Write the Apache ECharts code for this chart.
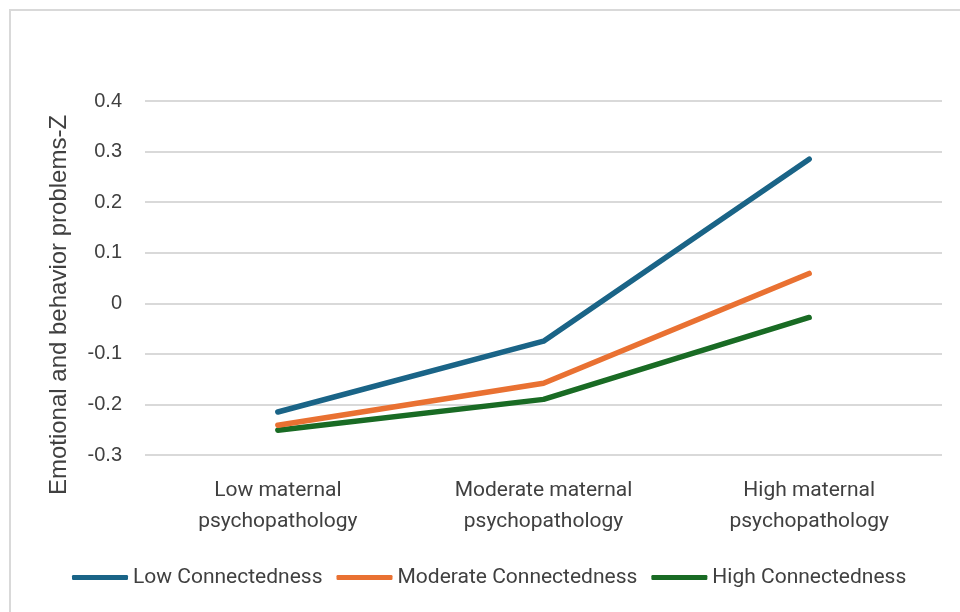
<!DOCTYPE html>
<html>
<head>
<meta charset="utf-8">
<script src="https://cdn.jsdelivr.net/npm/echarts@6/dist/echarts.min.js"></script>
<style>
  html, body { margin: 0; padding: 0; background: #fff; overflow: hidden; }
  #frame { position: absolute; left: 9px; top: 9px; width: 960px; height: 620px; border: 2px solid #d9d9d9; box-sizing: border-box; }
  #chart { position: absolute; left: 0; top: 0; width: 960px; height: 612px; }
</style>
</head>
<body>
<div id="frame"></div>
<div id="chart"></div>
<script>
// Categories along the x axis
const categories = [
  'Low maternal\npsychopathology',
  'Moderate maternal\npsychopathology',
  'High maternal\npsychopathology'
];
// Series values (z-scores)
const lowConnectedness = [-0.215, -0.075, 0.285];
const moderateConnectedness = [-0.241, -0.158, 0.059];
const highConnectedness = [-0.251, -0.190, -0.028];
const seriesNames = ['Low Connectedness', 'Moderate Connectedness', 'High Connectedness'];
const seriesColors = ['#1a6487', '#e97132', '#196b24'];

const labelFont = 'Roboto, "Noto Sans", sans-serif';
const tickFont = '"Liberation Sans", Arial, sans-serif';

const chart = echarts.init(document.getElementById('chart'), null, { renderer: 'canvas' });
const values = [lowConnectedness, moderateConnectedness, highConnectedness];

chart.setOption({
  animation: false,
  backgroundColor: 'transparent',
  grid: { left: 145, right: 18, top: 101, bottom: 157, containLabel: false },
  legend: {
    top: 562,
    left: 67,
    itemWidth: 56,
    itemHeight: 5,
    itemGap: 14,
    icon: 'roundRect',
    textStyle: { fontFamily: labelFont, fontSize: 21, color: '#404040' },
    data: seriesNames
  },
  xAxis: {
    type: 'category',
    data: categories,
    boundaryGap: true,
    axisLine: { show: false },
    axisTick: { show: false },
    axisLabel: {
      margin: 20,
      fontFamily: labelFont,
      fontSize: 21,
      lineHeight: 31,
      color: '#404040'
    }
  },
  yAxis: {
    type: 'value',
    min: -0.3,
    max: 0.4,
    interval: 0.1,
    name: 'Emotional and behavior problems-Z',
    nameLocation: 'middle',
    nameGap: 74,
    nameTextStyle: {
      fontFamily: tickFont,
      fontSize: 24,
      color: '#404040',
      padding: [0, 54, 0, 0]
    },
    axisLine: { show: false },
    axisTick: { show: false },
    splitLine: { lineStyle: { color: '#d9d9d9', width: 2 } },
    axisLabel: {
      margin: 23,
      fontFamily: tickFont,
      fontSize: 20,
      color: '#404040',
      formatter: function (v) { return String(Math.round(v * 10) / 10); }
    }
  },
  series: values.map(function (vals, i) {
    return {
      name: seriesNames[i],
      type: 'line',
      data: vals,
      symbol: 'none',
      lineStyle: { width: 5.5, color: seriesColors[i], cap: 'round', join: 'round' },
      itemStyle: { color: seriesColors[i] },
      z: 3 - i
    };
  })
});
</script>
</body>
</html>
